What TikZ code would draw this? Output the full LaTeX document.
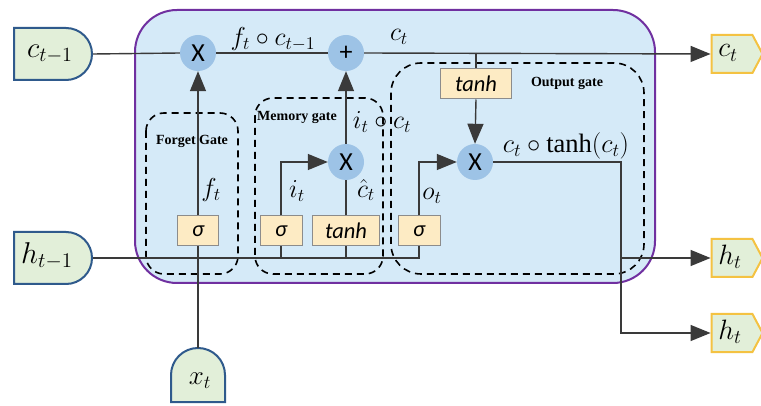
\documentclass[tikz,border=0pt]{standalone}
\usepackage{graphicx}
\usepackage{fontspec}
\setmainfont{Liberation Serif}
\newfontfamily\carl{Carlito}
\usetikzlibrary{arrows.meta,shapes.misc,shapes.symbols}
\definecolor{boxblue}{HTML}{D5EAF8}
\definecolor{boxpurple}{HTML}{7030A0}
\definecolor{circblue}{HTML}{9DC3E6}
\definecolor{gatefill}{HTML}{FDEBC4}
\definecolor{gateline}{HTML}{8C8C8C}
\definecolor{iofill}{HTML}{E2EFD9}
\definecolor{inline}{HTML}{2F5A8C}
\definecolor{outline}{HTML}{F4C242}
\definecolor{wire}{HTML}{3A3A3A}
\newcommand{\mth}[2]{\scalebox{#1}{$#2$}}
\begin{document}
\begin{tikzpicture}[x=1pt,y=-1pt,
  wire/.style={draw=wire, line width=1.4pt},
  arr/.style={wire, -{Triangle[length=20pt,width=16pt]}},
  mul/.style={circle, fill=circblue, minimum size=36pt, inner sep=0pt, font=\carl\fontsize{26}{26}\selectfont},
  gatebox/.style={draw=gateline, fill=gatefill, line width=1pt, minimum height=30pt, inner sep=0pt, font=\carl\itshape\fontsize{22.5}{22.5}\selectfont},
  inshape/.style={rounded rectangle, rounded rectangle left arc=none, draw=inline, fill=iofill, line width=2pt, minimum width=78pt, minimum height=52pt, inner sep=0pt},
  outshape/.style={signal, signal to=east, signal pointer angle=124, draw=outline, fill=iofill, line width=2pt, minimum width=51pt, minimum height=38pt, inner sep=0pt},
  dbox/.style={draw=black, dash pattern=on 7pt off 5pt, line width=1.6pt, rounded corners=18pt},
  mlabel/.style={font=\fontsize{20.74}{24}\selectfont, inner sep=0pt},
  glabel/.style={font=\bfseries\fontsize{14}{16}\selectfont, inner sep=0pt}
]
\useasboundingbox[fill=white] (0,0) rectangle (761,406);
% main cell
\draw[draw=boxpurple, fill=boxblue, line width=2pt, rounded corners=42pt] (135,10) rectangle (655,283);
% dashed gate regions
\draw[dbox] (146,113) rectangle (238,274);
\draw[dbox] (255,98) rectangle (383,274);
\draw[dbox, rounded corners=30pt] (391,63) rectangle (644,274);
% gate labels
\node[glabel] (fg) at (192,141) {Forget Gate};
\node[glabel] (mg) at (297,117) {Memory gate};
\node[glabel] (og) at (567,83) {Output gate};
% inputs / outputs
\node[inshape] (cin) at (53,54) {};
\node[mlabel] (cint) at (50,54) {\mth{1.4}{c_{t-1}}};
\node[inshape] (hin) at (53,258) {};
\node[mlabel] (hint) at (47,256) {\mth{1.45}{h_{t-1}}};
\draw[draw=inline, fill=iofill, line width=2pt] (171,402) -- (171,375) arc[start angle=180, end angle=360, radius=27] -- (225,402) -- cycle;
\node[mlabel] (xt) at (200,381) {\mth{1.3}{x_t}};
\coordinate (xtop) at (198,348);
\node[outshape] (cout) at (732,54) {};
\node[mlabel] (coutt) at (728,53) {\mth{1.35}{c_t}};
\node[outshape] (hout1) at (732,258) {};
\node[mlabel] (hout1t) at (730,257) {\mth{1.35}{h_t}};
\node[outshape] (hout2) at (732,333) {};
\node[mlabel] (hout2t) at (730,332) {\mth{1.35}{h_t}};
% operators
\node[mul] (fx) at (198,53) {X};
\node[mul] (pl) at (346,53) {+};
\node[mul] (mx) at (346,162) {X};
\node[mul] (ox) at (475,162) {X};
% gates
\node[gatebox, minimum width=41pt] (fs) at (198,231) {σ};
\node[gatebox, minimum width=42pt] (ms) at (281,231) {σ};
\node[gatebox, minimum width=67pt] (mt) at (346,231) {tanh};
\node[gatebox, minimum width=42pt] (os) at (419,231) {σ};
\node[gatebox, minimum width=71pt] (ot) at (476,84) {tanh};
% wires
\draw[wire] (cin.east) -- (fx.west);
\draw[wire] (fx.east) -- (pl.west);
\draw[arr] (pl.east) -- (cout.west);
\draw[wire] (ot.north |- pl.east) -- (ot.north);
\draw[arr] (ot.south) -- (ox.north);
\draw[arr] (fs.north) -- (fx.south);
\draw[arr] (ms.north) |- (mx.west);
\draw[wire] (mt.north) -- (mx.south);
\draw[arr] (mx.north) -- (pl.south);
\draw[arr] (os.north) |- (ox.west);
\coordinate (hj) at (621,333);
\draw[arr] (ox.east) -| (hj) -- (hout2.west);
\draw[arr] (hj |- hout1.west) -- (hout1.west);
\draw[wire] (hin.east) -| (os.south);
\draw[wire] (ms.south) -- (ms.south |- hin.east);
\draw[wire] (mt.south) -- (mt.south |- hin.east);
\draw[wire] (xtop) -- (fs.south);
% labels
\node[mlabel] (l1) at (273,39) {\mth{1.25}{f_t\circ c_{t-1}}};
\node[mlabel] (l2) at (399,37) {\mth{1.25}{c_t}};
\node[mlabel] (l3) at (382,122) {\mth{1.25}{i_t\circ c_t}};
\node[mlabel] (l4) at (211,190) {\mth{1.25}{f_t}};
\node[mlabel] (l5) at (297,191) {\mth{1.25}{i_t}};
\node[mlabel] (l6) at (366,190) {\mth{1.25}{\hat{c}_t}};
\node[mlabel] (l7) at (432,196) {\mth{1.25}{o_t}};
\node[mlabel] (l8) at (566,146) {\mth{1.28}{c_t\circ\tanh(c_t)}};
\end{tikzpicture}
\end{document}
